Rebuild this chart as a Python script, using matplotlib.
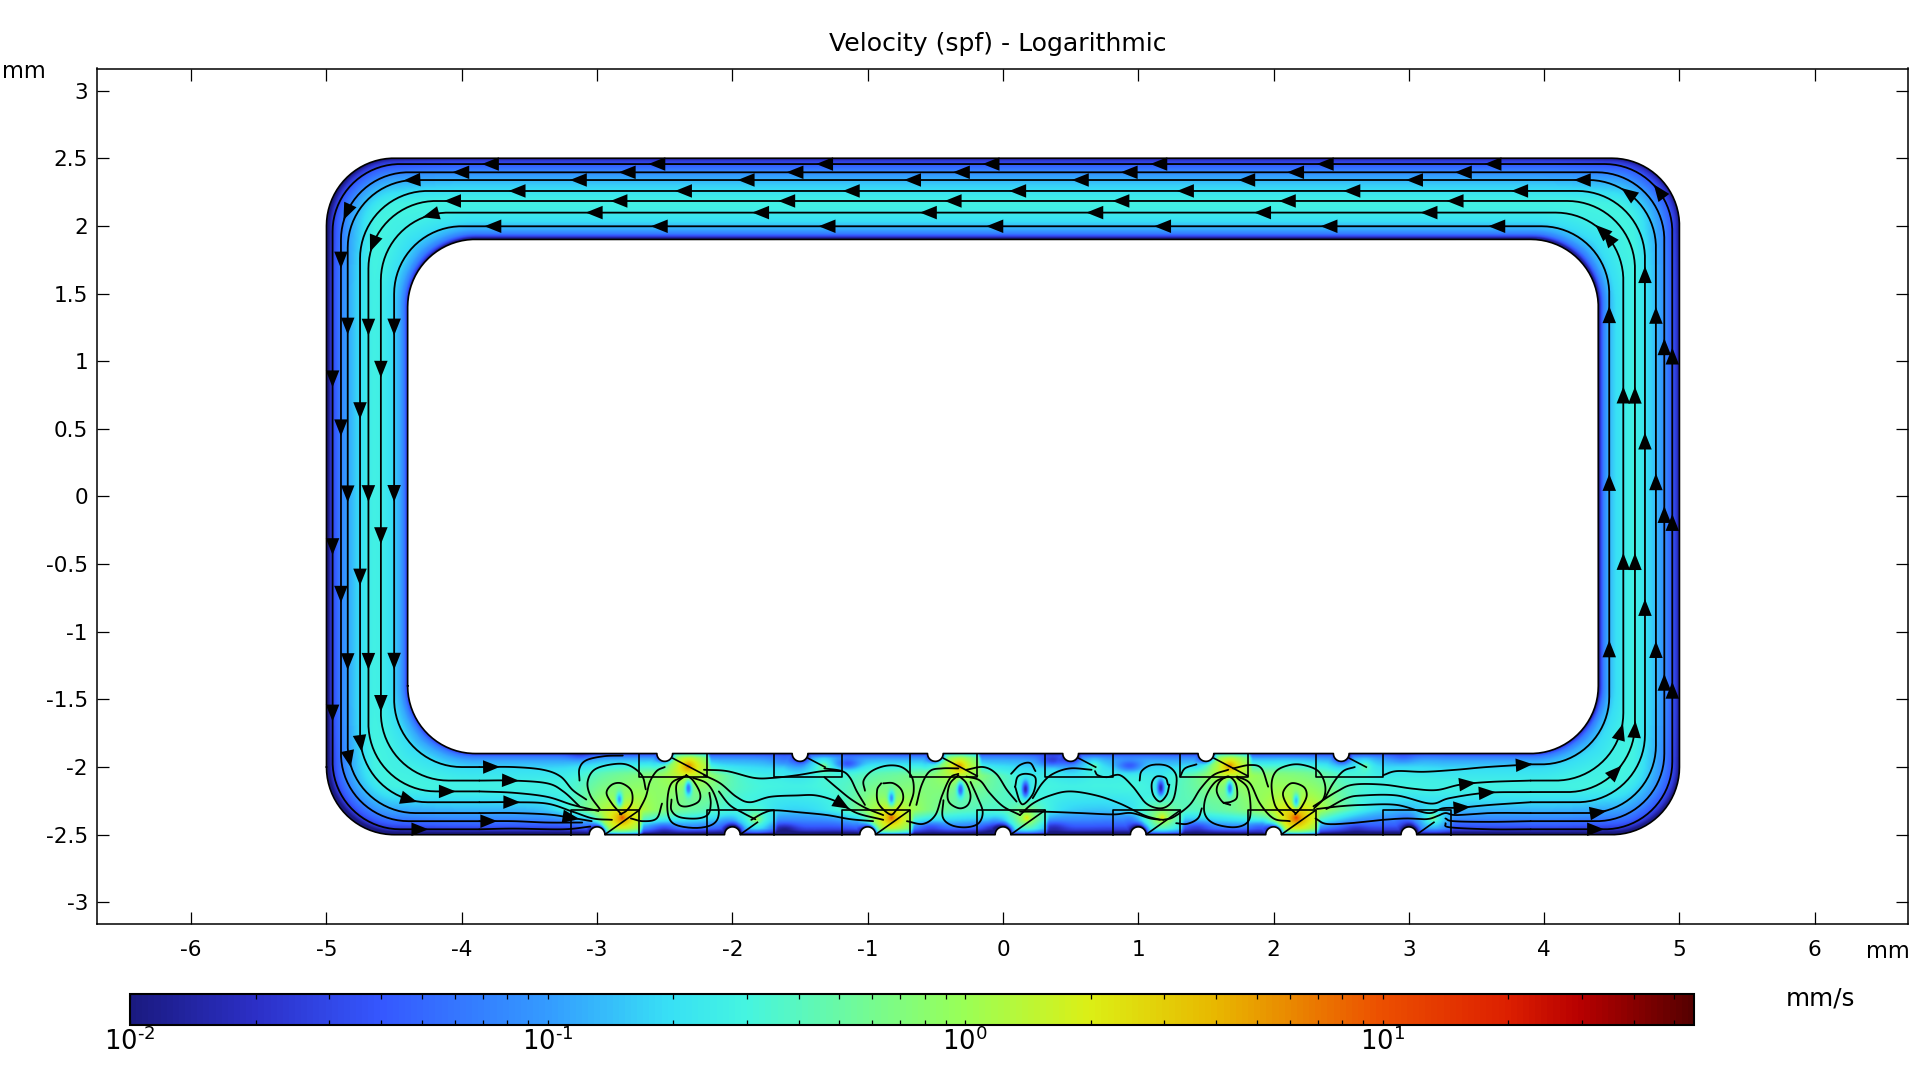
import numpy as np
import matplotlib
matplotlib.use("Agg")
import matplotlib.pyplot as plt
from matplotlib.colors import LinearSegmentedColormap, LogNorm
from matplotlib.path import Path
from matplotlib.patches import PathPatch
from matplotlib.cm import ScalarMappable
from matplotlib.ticker import LogLocator, NullFormatter

# ---------- labels / ticks ----------
title = "Velocity (spf) - Logarithmic"
xticks = [-6, -5, -4, -3, -2, -1, 0, 1, 2, 3, 4, 5, 6]
yticks = [-3, -2.5, -2, -1.5, -1, -0.5, 0, 0.5, 1, 1.5, 2, 2.5, 3]
ylabels = ["-3", "-2.5", "-2", "-1.5", "-1", "-0.5", "0", "0.5", "1", "1.5", "2", "2.5", "3"]
cb_ticks = [1e-2, 1e-1, 1e0, 1e1]
cb_labels = [r"$\mathdefault{10^{\text{-}2}}$", r"$\mathdefault{10^{\text{-}1}}$",
             r"$\mathdefault{10^{0}}$", r"$\mathdefault{10^{1}}$"]
v_min, v_max = 1e-2, 10 ** 1.746

# ---------- colour scale ----------
cmap_pos = [0, .0806, .16, .267, .344, .394, .531, .614, .694, .80, .881, .928, 1]
cmap_col = ["#1a1a80", "#2c30c8", "#3558ff", "#349cff", "#38e0f5", "#45f5e0", "#98ff58",
            "#dcef15", "#e8b800", "#ec5000", "#dd2000", "#b80000", "#560000"]
cmap = LinearSegmentedColormap.from_list("rb", list(zip(cmap_pos, cmap_col)), N=256)

# ---------- channel geometry (mm) ----------
top_notch_x = [-2.5, -1.5, -0.5, 0.5, 1.5, 2.5]
bot_notch_x = [-3, -2, -1, 0, 1, 2, 3]
notch_r = 0.058
top_rect_l = [-2.69, -1.69, -0.69, 0.31, 1.31, 2.31]
bot_rect_l = [-3.19, -2.19, -1.19, -0.19, 0.81, 1.81, 2.81]
rect_w = 0.5
top_diag_frac = [1, .5, 1, .5, 1, .5]
bot_diag_frac = [1, .5, 1, 1, 1, 1, .5]

# ---------- speed: log10(mm/s) ----------
prof_t = [0, .02, .05, .1, .2, .35, .5]
prof_v = [-1.9, -1.5, -1.18, -.95, -.72, -.58, -.53]

hot_x = [-2.82, -1.83, -.83, .17, 1.17, 2.16, 3.17, -2.33, -1.33, -.33, .67, 1.67, 2.67]
hot_y = [-2.38, -2.39, -2.38, -2.38, -2.38, -2.38, -2.38, -2.0, -2.0, -2.0, -2.0, -2.0, -2.0]
hot_p = [1.05, .05, 1.0, .4, .4, 1.15, -.1, .95, -.1, .85, -.25, .9, -.25]

vort_x = [-2.84, -2.33, -.83, -.32, .16, 1.16, 1.67, 2.16]
vort_y = [-2.25, -2.16, -2.24, -2.17, -2.17, -2.16, -2.16, -2.26]
vort_d = [1.0, 1.1, 1.0, 1.1, 1.2, 1.2, 1.0, 1.0]

dark_x = [-3.13, -2.51, -1.62, -1.155, -.54, -.07, .36, .37, .93, 1.43, 1.9, -1.62, -2.0, 2.95, 2.6]
dark_y = [-1.92, -2.46, -2.46, -1.985, -2.45, -2.46, -1.96, -2.45, -2.0, -2.45, -2.45, -1.96, -2.46, -1.94, -2.46]
dark_d = [.25, .35, .4, .6, .3, .4, .6, .3, .6, .3, .3, .2, .2, .2, .2]

# ---------- streamlines in the loop: distance from the outer wall per side ----------
d_top = [.043, .104, .161, .242, .316, .402, .503]
d_left = [.045, .107, .157, .248, .31, .402, .50]
d_right = [.053, .112, .174, .255, .329, .415, .519]
d_bot_l = [.04, .10, .16, .24, .32, .40, .50]
d_bot_r = [.04, .10, .16, .24, .315, .40, .52]

# ---------- streamlines through the electrode section (mm) ----------
lines_mid = [
    [(-3.87,-2.00),(-3.62,-2.00),(-3.40,-2.02),(-3.27,-2.07),(-3.18,-2.17),(-3.08,-2.24)],
    [(-3.87,-2.10),(-3.62,-2.10),(-3.37,-2.12),(-3.25,-2.18),(-3.13,-2.29)],
    [(-3.87,-2.18),(-3.62,-2.19),(-3.37,-2.22),(-3.18,-2.28),(-2.99,-2.325)],
    [(-3.87,-2.26),(-3.62,-2.26),(-3.37,-2.27),(-3.18,-2.33),(-3.03,-2.38),(-2.89,-2.39)],
    [(-3.87,-2.34),(-3.62,-2.34),(-3.37,-2.35),(-3.22,-2.37),(-3.04,-2.40)],
    [(-3.87,-2.40),(-3.62,-2.40),(-3.37,-2.41),(-3.11,-2.41)],
    [(-3.87,-2.46),(-3.62,-2.455),(-3.25,-2.46),(-3.05,-2.44)],
    [(-2.81,-1.915),(-2.95,-1.92),(-3.08,-1.95),(-3.13,-2.01),(-3.13,-2.10)],
    [(-2.98,-2.31),(-3.05,-2.21),(-3.07,-2.11),(-3.02,-2.02),(-2.89,-1.98),(-2.77,-1.985),(-2.67,-2.06),(-2.64,-2.165)],
    [(-2.82,-2.35),(-2.89,-2.27),(-2.93,-2.19),(-2.89,-2.13),(-2.82,-2.12),(-2.75,-2.17),(-2.74,-2.255),(-2.78,-2.32),(-2.83,-2.35)],
    [(-2.69,-2.32),(-2.64,-2.22),(-2.61,-2.11),(-2.56,-2.03),(-2.50,-2.00)],
    [(-2.75,-2.38),(-2.66,-2.40),(-2.56,-2.38),(-2.52,-2.27)],
    [(-2.34,-2.06),(-2.41,-2.12),(-2.41,-2.22),(-2.39,-2.28),(-2.33,-2.29),(-2.25,-2.255),(-2.24,-2.19),(-2.29,-2.10),(-2.34,-2.06)],
    [(-2.36,-2.07),(-2.45,-2.12),(-2.48,-2.24),(-2.47,-2.37),(-2.41,-2.43),(-2.26,-2.45),(-2.14,-2.42),(-2.10,-2.34),(-2.13,-2.21),(-2.19,-2.12),(-2.29,-2.08)],
    [(-2.45,-2.24),(-2.45,-2.32),(-2.39,-2.37),(-2.26,-2.38),(-2.18,-2.35),(-2.16,-2.27),(-2.17,-2.19)],
    [(-2.21,-2.02),(-2.04,-2.03),(-1.84,-2.08),(-1.70,-2.08),(-1.52,-2.06),(-1.33,-2.03),(-1.19,-2.03)],
    [(-2.21,-2.06),(-2.09,-2.12),(-1.97,-2.22),(-1.87,-2.26),(-1.72,-2.22),(-1.525,-2.21),(-1.38,-2.21),(-1.23,-2.255),(-1.08,-2.34),(-.885,-2.39)],
    [(-2.10,-2.18),(-2.02,-2.28),(-1.92,-2.34),(-1.83,-2.386)],
    [(-1.86,-2.39),(-1.77,-2.34),(-1.685,-2.32),(-1.50,-2.335),(-1.30,-2.355),(-1.13,-2.385),(-.96,-2.40)],
    [(-1.32,-2.01),(-1.19,-2.03),(-1.13,-2.08),(-1.08,-2.18),(-1.02,-2.28)],
    [(-1.32,-2.075),(-1.22,-2.16),(-1.12,-2.24),(-1.01,-2.305),(-.885,-2.355)],
    [(-1.02,-2.175),(-1.03,-2.10),(-.97,-2.03),(-.86,-1.99),(-.75,-2.00),(-.675,-2.07),(-.66,-2.18),(-.69,-2.285)],
    [(-.90,-2.12),(-.93,-2.17),(-.92,-2.27),(-.835,-2.35),(-.79,-2.32),(-.74,-2.245),(-.75,-2.17),(-.81,-2.12),(-.885,-2.12)],
    [(-.64,-2.28),(-.60,-2.13),(-.54,-2.03),(-.45,-2.01),(-.33,-2.01)],
    [(-.71,-2.40),(-.59,-2.42),(-.50,-2.355),(-.45,-2.21),(-.39,-2.08),(-.33,-2.05)],
    [(-.33,-2.06),(-.39,-2.12),(-.41,-2.21),(-.39,-2.27),(-.32,-2.305),(-.26,-2.28),(-.24,-2.21),(-.27,-2.12),(-.32,-2.07)],
    [(-.44,-2.245),(-.445,-2.37),(-.38,-2.43),(-.27,-2.445),(-.18,-2.415),(-.15,-2.33),(-.19,-2.22),(-.24,-2.11)],
    [(-.27,-2.02),(-.145,-2.00),(-.05,-2.05),(.03,-2.17),(.10,-2.255)],
    [(-.27,-2.07),(-.17,-2.10),(-.10,-2.19),(.00,-2.29),(.126,-2.355)],
    [(.09,-2.145),(.11,-2.07),(.175,-2.05),(.24,-2.08),(.225,-2.19),(.16,-2.27),(.125,-2.255),(.09,-2.145)],
    [(.06,-2.05),(.126,-1.985),(.20,-1.97),(.24,-2.03)],
    [(.22,-2.23),(.29,-2.12),(.37,-2.05),(.495,-2.01),(.655,-2.02)],
    [(.68,-2.03),(.70,-2.06),(.766,-2.075),(.865,-2.06),(.96,-2.145),(1.06,-2.27),(1.17,-2.305),(1.25,-2.255),(1.28,-2.145),(1.276,-2.05),(1.21,-1.99),(1.10,-1.985),(1.025,-2.03),(1.01,-2.10)],
    [(1.22,-2.13),(1.20,-2.08),(1.135,-2.07),(1.10,-2.12),(1.11,-2.205),(1.16,-2.255),(1.21,-2.205),(1.23,-2.13)],
    [(.126,-2.355),(.22,-2.27),(.35,-2.21),(.495,-2.18),(.69,-2.21),(.865,-2.27),(1.04,-2.355),(1.16,-2.39)],
    [(.126,-2.33),(.31,-2.33),(.57,-2.34),(.815,-2.35),(.95,-2.34),(1.09,-2.38),(1.185,-2.39)],
    [(1.28,-2.415),(1.36,-2.42),(1.44,-2.38),(1.47,-2.305)],
    [(1.185,-2.39),(1.26,-2.37),(1.38,-2.28),(1.46,-2.16),(1.555,-2.06),(1.665,-2.02)],
    [(1.31,-2.07),(1.345,-2.01),(1.43,-1.98)],
    [(1.68,-2.28),(1.62,-2.255),(1.58,-2.18),(1.60,-2.11),(1.665,-2.07),(1.72,-2.12),(1.73,-2.22),(1.69,-2.255),(1.63,-2.265)],
    [(1.665,-2.07),(1.57,-2.11),(1.50,-2.22),(1.49,-2.34),(1.555,-2.415),(1.70,-2.445),(1.80,-2.415),(1.83,-2.33),(1.81,-2.16),(1.73,-2.08)],
    [(1.70,-2.01),(1.825,-1.985),(1.91,-2.01),(1.96,-2.145)],
    [(1.73,-2.07),(1.825,-2.12),(1.90,-2.27),(2.00,-2.38),(2.12,-2.40)],
    [(2.07,-2.355),(2.01,-2.28),(1.985,-2.13),(2.02,-2.03),(2.12,-1.985),(2.22,-1.985),(2.33,-2.03),(2.38,-2.13),(2.37,-2.23),(2.30,-2.305)],
    [(2.16,-2.34),(2.10,-2.28),(2.07,-2.19),(2.13,-2.12),(2.22,-2.145),(2.245,-2.21),(2.21,-2.29),(2.16,-2.35)],
    [(2.38,-2.23),(2.44,-2.12),(2.515,-2.03),(2.60,-2.00)],
    [(2.295,-2.29),(2.47,-2.18),(2.59,-2.13),(2.81,-2.13),(3.03,-2.16),(3.205,-2.17),(3.38,-2.13),(3.60,-2.11),(3.90,-2.10)],
    [(2.39,-2.31),(2.54,-2.23),(2.66,-2.21),(2.91,-2.21),(3.16,-2.27),(3.30,-2.23),(3.575,-2.19),(3.90,-2.185)],
    [(2.32,-2.31),(2.49,-2.29),(2.66,-2.28),(2.91,-2.28),(3.14,-2.34),(3.25,-2.305),(3.38,-2.30),(3.60,-2.28),(3.90,-2.26)],
    [(2.31,-2.38),(2.39,-2.42),(2.565,-2.415),(2.81,-2.39),(2.98,-2.38),(3.13,-2.385),(3.205,-2.365),(3.27,-2.34),(3.35,-2.355),(3.60,-2.34),(3.90,-2.34)],
    [(2.81,-2.06),(2.91,-2.03),(3.11,-2.035),(3.35,-2.02),(3.575,-2.00),(3.90,-1.98)],
    [(3.27,-2.38),(3.33,-2.40),(3.60,-2.405),(3.90,-2.40)],
    [(3.27,-2.415),(3.30,-2.445),(3.60,-2.46),(3.90,-2.46)],
]

# ---------- arrowheads: where they sit (mm) ----------
arrow_pts = [
    *[(x, 2.457) for x in (-3.79,-2.56,-1.32,-.09,1.15,2.38,3.62)],
    *[(x, 2.396) for x in (-4.01,-2.78,-1.54,-.31,.93,2.16,3.40)],
    *[(x, 2.339) for x in (-3.14,-1.90,-.67,.57,1.80,3.04)],
    (-4.37, 2.34), (4.28, 2.34),
    *[(x, 2.258) for x in (-3.59,-2.36,-1.12,.11,1.35,2.58,3.82)],
    *[(x, 2.184) for x in (-4.07,-2.84,-1.60,-.37,.87,2.10,3.34)],
    *[(x, 2.098) for x in (-3.02,-1.79,-.55,.68,1.92,3.15)],
    (-4.22, 2.04),
    *[(x, 1.997) for x in (-3.77,-2.54,-1.30,-.06,1.18,2.41,3.65)],
    *[(-4.955, y) for y in (.87,-.37,-1.60)], (-4.88, 2.12),
    *[(-4.893, y) for y in (1.75,.51,-.72)], (-4.86, -1.95),
    *[(-4.843, y) for y in (1.26,.02,-1.22)],
    *[(-4.752, y) for y in (.63,-.60)], (-4.71, -1.82),
    *[(-4.69, y) for y in (1.25,.02,-1.22)], (-4.66, 1.87),
    *[(-4.598, y) for y in (.94,-.29,-1.53)],
    *[(-4.50, y) for y in (1.25,.02,-1.22)],
    (-3.78,-2.00), (-3.64,-2.10), (-4.11,-2.16), (-3.63,-2.255), (-4.40,-2.27),
    (-3.19,-2.367), (-3.80,-2.40), (-4.31,-2.44),
    (-1.18,-2.27), (3.85,-1.98), (3.43,-2.125), (3.575,-2.185), (3.39,-2.30),
    (4.39,-2.30), (4.38,-2.47), (4.55,-2.05),
    *[(4.481, y) for y in (1.34,.10,-1.13)], (4.39, 1.92),
    *[(4.585, y) for y in (.75,-.48)], (4.51,-1.72), (4.52, 1.945),
    *[(4.671, y) for y in (.75,-.48)], (4.65,-1.72),
    *[(4.745, y) for y in (1.64,.41,-.82)],
    *[(4.826, y) for y in (1.34,.11,-1.13)], (4.63, 2.26),
    *[(4.888, y) for y in (1.11,-.13,-1.37)], (4.82, 2.24),
    *[(4.947, y) for y in (1.04,-.19,-1.43)],
]

# ---------- figure ----------
W, H = 1920, 1080
FS = 15.6
fig = plt.figure(figsize=(19.2, 10.8), dpi=100, facecolor="white")
ax = fig.add_axes([97 / W, 1 - 924 / H, (1908 - 97) / W, (924 - 68.5) / H])
ax.set_xlim(-6.696, 6.689)
ax.set_ylim(-3.160, 3.163)


def arc(cx, cy, r, a0, a1, n=40):
    a = np.radians(np.linspace(a0, a1, n))
    return np.c_[cx + r * np.cos(a), cy + r * np.sin(a)]


def ring(hx, hy, r, notches, wall_y, a0, a1):
    pts = [arc(-hx + r, -hy + r, r, 180, 270)]
    for nx in notches:
        pts.append(arc(nx, wall_y, notch_r, a0, a1))
    pts.append(arc(hx - r, -hy + r, r, 270, 360))
    pts.append(arc(hx - r, hy - r, r, 0, 90))
    pts.append(arc(-hx + r, hy - r, r, 90, 180))
    return np.vstack(pts)


outer = ring(5.0, 2.5, .5, bot_notch_x, -2.5, 180, 0)
inner = ring(4.4, 1.9, .5, top_notch_x, -1.9, 180, 360)


def closed(p):
    v = np.vstack([p, p[0]])
    c = np.full(len(v), Path.LINETO)
    c[0] = Path.MOVETO
    return v, c


vo, co = closed(outer)
vi, ci = closed(inner[::-1])
domain = Path(np.vstack([vo, vi]), np.r_[co, ci])

# ---------- speed field ----------
gx = np.arange(-5.05, 5.05, .005)
gy = np.arange(-2.55, 2.55, .005)
X, Y = np.meshgrid(gx, gy)


def sd_round(X, Y, hx, hy, r):
    qx = np.abs(X) - (hx - r)
    qy = np.abs(Y) - (hy - r)
    return np.hypot(np.maximum(qx, 0), np.maximum(qy, 0)) + np.minimum(np.maximum(qx, qy), 0) - r


d_o = -sd_round(X, Y, 5, 2.5, .5)
d_i = sd_round(X, Y, 4.4, 1.9, .5)
for nx in bot_notch_x:
    d_o = np.minimum(d_o, np.hypot(X - nx, Y + 2.5) - notch_r)
for nx in top_notch_x:
    d_i = np.minimum(d_i, np.hypot(X - nx, Y + 1.9) - notch_r)
d_o = np.maximum(d_o, 0)
d_i = np.maximum(d_i, 0)
tt = d_o / np.maximum(d_o + d_i, 1e-6)
tt = np.minimum(tt, 1 - tt)
L = np.interp(tt, prof_t, prof_v)
# the outer corners are slower than the straight runs
rc = np.hypot(np.maximum(np.abs(X) - 4.5, 0), np.maximum(np.abs(Y) - 2.0, 0))
L -= .45 * np.clip((rc - .15) / .3, 0, 1)

total = np.zeros(X.shape)
for hx, hy, hp in zip(hot_x, hot_y, hot_p):
    r = np.hypot(X - hx, Y - hy)
    c = hp - 1.1 * np.log10(1 + r / .025) - .7 * (r / .7) ** 2
    if hy < -2.2:
        band = np.clip((-2.32 - Y) / .14, 0, 1)
        right = min(b + rect_w for b in bot_rect_l if b + rect_w >= hx)
        c -= .5 * np.clip((Y + 2.05) / .15, 0, 1)
    else:
        band = np.clip((Y + 2.07) / .14, 0, 1)
        right = min(b + rect_w for b in top_rect_l if b + rect_w >= hx)
        c -= .5 * np.clip((-2.34 - Y) / .15, 0, 1)
    out = np.clip(np.maximum((X - right) / .03, (hx - .13 - X) / .12), 0, 1)
    c -= 1.1 * band * out
    total += 10 ** c
best = np.log10(np.maximum(total, 1e-9))
d_wall = np.minimum(d_o, d_i)
best += np.interp(d_wall, [0, .012, .04, .1], [-1.2, -.6, -.15, 0])
L = np.log10((10 ** (3 * L) + 10 ** (3 * best)) ** (1 / 3))

for vx, vy, vd in zip(vort_x, vort_y, vort_d):
    L -= vd * np.exp(-((X - vx) / .024) ** 2 - ((Y - vy) / .055) ** 2)
    L -= .15 * np.exp(-((X - vx) / .1) ** 2 - ((Y - vy) / .12) ** 2)
for px, py, pd in zip(dark_x, dark_y, dark_d):
    L -= pd * np.exp(-((X - px) / .09) ** 2 - ((Y - py) / .04) ** 2)

norm = LogNorm(v_min, v_max)
im = ax.imshow(10 ** L, extent=(gx[0], gx[-1] + .005, gy[0], gy[-1] + .005), origin="lower",
               cmap=cmap, norm=norm, interpolation="bilinear", aspect="auto", zorder=1)
im.set_clip_path(PathPatch(domain, transform=ax.transData))

# ---------- boundaries ----------
BLW = 1.2
for b in (outer, inner):
    v = np.vstack([b, b[0]])
    ax.plot(v[:, 0], v[:, 1], color="black", lw=BLW, zorder=3)
for l, f in zip(top_rect_l, top_diag_frac):
    ax.plot([l, l, l + rect_w, l + rect_w], [-1.9, -2.07, -2.07, -1.9], color="black", lw=BLW, zorder=3)
    ax.plot([l + .25, l + .25 + .25 * f], [-1.935, -1.935 - .131 * f], color="black", lw=BLW, zorder=3)
for l, f in zip(bot_rect_l, bot_diag_frac):
    ax.plot([l, l, l + rect_w, l + rect_w], [-2.5, -2.32, -2.32, -2.5], color="black", lw=BLW, zorder=3)
    ax.plot([l + .25, l + .25 + .25 * f], [-2.497, -2.497 + .177 * f], color="black", lw=BLW, zorder=3)


# ---------- streamlines ----------
def loop_line(k):
    xr, xl = 5 - d_right[k], -(5 - d_left[k])
    yt = 2.5 - d_top[k]
    yr, yl = -(2.5 - d_bot_r[k]), -(2.5 - d_bot_l[k])
    r = .5
    return np.vstack([
        [[3.9, yr]],
        arc(xr - r, yr + r, r, -90, 0),
        arc(xr - r, yt - r, r, 0, 90),
        arc(xl + r, yt - r, r, 90, 180),
        arc(xl + r, yl + r, r, 180, 270),
        [[-3.87, yl]],
    ])


def smooth(points, n=14):
    p = np.array(points, float)
    p = np.vstack([2 * p[0] - p[1], p, 2 * p[-1] - p[-2]])
    out = []
    u = np.linspace(0, 1, n, endpoint=False)[:, None]
    for i in range(1, len(p) - 2):
        a, b, c, d = p[i - 1], p[i], p[i + 1], p[i + 2]
        out.append(.5 * (2 * b + (c - a) * u + (2 * a - 5 * b + 4 * c - d) * u ** 2
                         + (3 * b - a - 3 * c + d) * u ** 3))
    out.append(p[-2][None])
    return np.vstack(out)


all_lines = [loop_line(k) for k in range(7)] + [smooth(s) for s in lines_mid]
for s in all_lines:
    ax.plot(s[:, 0], s[:, 1], color="black", lw=1.3, solid_capstyle="round", zorder=4)


def densify(s, step=.01):
    seg = np.hypot(*np.diff(s, axis=0).T)
    u = np.r_[0, np.cumsum(seg)]
    ui = np.arange(0, u[-1], step)
    return np.c_[np.interp(ui, u, s[:, 0]), np.interp(ui, u, s[:, 1])]


dense = [densify(s) for s in all_lines]
A_LEN, A_HW = .125, .05
for ax_, ay_ in arrow_pts:
    best_d, tang, pos = 1e9, None, None
    for s in dense:
        d = np.hypot(s[:, 0] - ax_, s[:, 1] - ay_)
        i = int(d.argmin())
        if d[i] < best_d and len(s) > 12:
            i0, i1 = max(i - 5, 0), min(i + 5, len(s) - 1)
            best_d, pos = d[i], s[i]
            tang = s[i1] - s[i0]
    tang = tang / np.hypot(*tang)
    nrm = np.array([-tang[1], tang[0]])
    tip = pos + tang * A_LEN / 2
    b = pos - tang * A_LEN / 2
    tri = np.array([tip, b + nrm * A_HW, b - nrm * A_HW])
    ax.fill(tri[:, 0], tri[:, 1], color="black", lw=0, zorder=5)

# ---------- axes furniture ----------
ax.set_xticks(xticks)
ax.set_xticklabels([str(v) for v in xticks], fontsize=FS)
ax.set_yticks(yticks)
ax.set_yticklabels(ylabels, fontsize=FS)
ax.tick_params(axis="both", which="major", direction="in", length=8.6, width=.9, top=True, right=True)
ax.tick_params(axis="x", pad=11.7)
ax.tick_params(axis="y", pad=6.5)
for s in ax.spines.values():
    s.set_linewidth(1.1)
fig.text(998 / W, 1 - 44.5 / H, title, fontsize=18.1, ha="center", va="center")
fig.text(24 / W, 1 - 72 / H, "mm", fontsize=16.3, ha="center", va="center")
fig.text(1888 / W, 1 - 951 / H, "mm", fontsize=16.3, ha="center", va="center")
fig.text(1820 / W, 1 - 998 / H, "mm/s", fontsize=17.7, ha="center", va="center")

# ---------- colour legend ----------
cax = fig.add_axes([130 / W, 1 - 1025 / H, (1694 - 130) / W, 31 / H])
cb = fig.colorbar(ScalarMappable(norm=norm, cmap=cmap), cax=cax, orientation="horizontal")
cb.set_ticks(cb_ticks, labels=cb_labels)
cax.xaxis.set_minor_locator(LogLocator(base=10, subs=range(2, 10), numticks=20))
cax.xaxis.set_minor_formatter(NullFormatter())
cax.tick_params(axis="x", which="both", direction="in", length=3.6, width=.9, top=True, bottom=True)
cax.tick_params(axis="x", which="major", labelsize=18.6, pad=1.5)
cb.outline.set_linewidth(1.5)

fig.savefig("out.png", dpi=100)
